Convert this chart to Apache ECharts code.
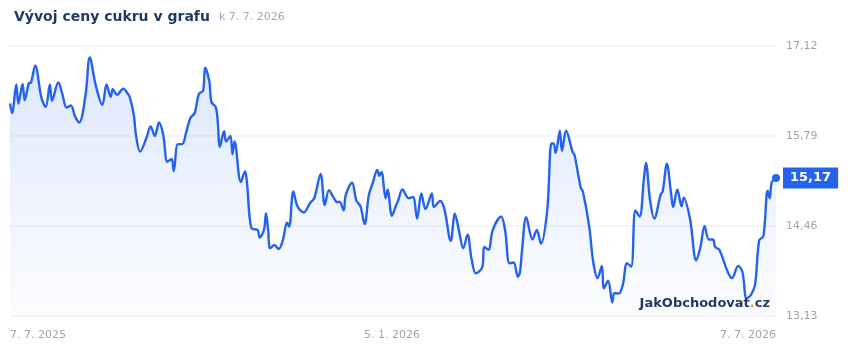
<!DOCTYPE html>
<html>
<head>
<meta charset="utf-8">
<script src="https://cdn.jsdelivr.net/npm/echarts@6/dist/echarts.min.js"></script>
<style>
  html, body { margin: 0; padding: 0; background: #fff; }
  #main { width: 860px; height: 350px; }
</style>
</head>
<body>
<div id="main"></div>
<script>
// datumy (denní body)
var dates = [
    '2025-07-07','2025-07-08','2025-07-10','2025-07-11','2025-07-13','2025-07-14','2025-07-16','2025-07-17','2025-07-19','2025-07-22',
    '2025-07-24','2025-07-26','2025-07-27','2025-07-30','2025-08-01','2025-08-03','2025-08-05','2025-08-07','2025-08-09','2025-08-12',
    '2025-08-14','2025-08-17','2025-08-20','2025-08-22','2025-08-24','2025-08-25','2025-08-27','2025-08-30','2025-09-01','2025-09-02',
    '2025-09-04','2025-09-05','2025-09-07','2025-09-10','2025-09-12','2025-09-14','2025-09-16','2025-09-18','2025-09-20','2025-09-22',
    '2025-09-23','2025-09-25','2025-09-27','2025-09-29','2025-10-01','2025-10-03','2025-10-05','2025-10-07','2025-10-08','2025-10-10',
    '2025-10-11','2025-10-13','2025-10-14','2025-10-15','2025-10-17','2025-10-18','2025-10-20','2025-10-21','2025-10-22','2025-10-25',
    '2025-10-27','2025-10-28','2025-10-30','2025-11-02','2025-11-03','2025-11-05','2025-11-06','2025-11-07','2025-11-08','2025-11-10',
    '2025-11-12','2025-11-14','2025-11-16','2025-11-17','2025-11-19','2025-11-21','2025-11-24','2025-11-27','2025-11-29','2025-12-02',
    '2025-12-04','2025-12-06','2025-12-08','2025-12-10','2025-12-11','2025-12-13','2025-12-14','2025-12-17','2025-12-19','2025-12-21',
    '2025-12-23','2025-12-25','2025-12-27','2025-12-29','2025-12-30','2025-12-31','2026-01-02','2026-01-03','2026-01-05','2026-01-07',
    '2026-01-08','2026-01-10','2026-01-13','2026-01-15','2026-01-17','2026-01-19','2026-01-21','2026-01-24','2026-01-25','2026-01-28',
    '2026-01-30','2026-02-02','2026-02-04','2026-02-06','2026-02-08','2026-02-10','2026-02-12','2026-02-14','2026-02-17','2026-02-18',
    '2026-02-20','2026-02-22','2026-02-26','2026-02-28','2026-03-02','2026-03-04','2026-03-06','2026-03-07','2026-03-08','2026-03-10',
    '2026-03-13','2026-03-15','2026-03-17','2026-03-20','2026-03-22','2026-03-23','2026-03-24','2026-03-26','2026-03-27','2026-03-29',
    '2026-04-01','2026-04-02','2026-04-05','2026-04-06','2026-04-09','2026-04-11','2026-04-13','2026-04-15','2026-04-16','2026-04-18',
    '2026-04-20','2026-04-21','2026-04-23','2026-04-25','2026-04-27','2026-04-29','2026-05-01','2026-05-03','2026-05-05','2026-05-06',
    '2026-05-08','2026-05-10','2026-05-13','2026-05-14','2026-05-16','2026-05-18','2026-05-19','2026-05-21','2026-05-23','2026-05-24',
    '2026-05-27','2026-05-30','2026-06-01','2026-06-03','2026-06-05','2026-06-07','2026-06-08','2026-06-10','2026-06-14','2026-06-16',
    '2026-06-19','2026-06-21','2026-06-23','2026-06-25','2026-06-27','2026-06-29','2026-07-01','2026-07-03','2026-07-04','2026-07-05',
    '2026-07-07'
];

// cena cukru
var prices = [
    16.27,16.13,16.55,16.27,16.56,16.32,16.57,16.58,16.83,16.35,
    16.22,16.55,16.31,16.58,16.40,16.21,16.24,16.08,15.99,16.40,
    16.95,16.52,16.25,16.55,16.37,16.48,16.40,16.49,16.42,16.37,
    16.10,15.81,15.56,15.76,15.93,15.79,15.99,15.81,15.41,15.45,
    15.27,15.67,15.67,15.85,16.06,16.13,16.41,16.46,16.80,16.59,
    16.29,16.22,16.00,15.63,15.86,15.71,15.79,15.52,15.71,15.11,
    15.27,15.07,14.43,14.40,14.29,14.40,14.65,14.40,14.13,14.18,
    14.12,14.25,14.51,14.45,14.97,14.75,14.66,14.80,14.87,15.23,
    14.77,14.99,14.89,14.81,14.82,14.69,14.92,15.10,14.84,14.75,
    14.49,14.92,15.11,15.29,15.20,15.26,14.87,15.00,14.61,14.77,
    14.84,15.00,14.87,14.89,14.57,14.94,14.71,14.94,14.74,14.83,
    14.71,14.24,14.64,14.38,14.13,14.33,13.96,13.76,13.85,14.15,
    14.11,14.40,14.60,14.38,13.91,13.92,13.71,13.78,14.11,14.59,
    14.26,14.40,14.20,14.70,15.68,15.68,15.54,15.87,15.57,15.87,
    15.56,15.51,15.02,14.97,14.45,13.91,13.69,13.87,13.54,13.65,
    13.33,13.47,13.46,13.59,13.91,13.86,14.69,14.60,15.14,15.39,
    14.84,14.57,14.92,14.97,15.38,14.94,14.74,15.00,14.75,14.88,
    14.57,13.95,14.15,14.46,14.26,14.26,14.15,14.11,13.78,13.69,
    13.87,13.78,13.39,13.44,13.59,14.25,14.31,14.98,14.87,15.11,
    15.17
];

// popisky osy x
var xLabelDates = ['2025-07-07', '2026-01-05', '2026-07-07'];

// osa y
var yMin = 13.13;
var yMax = 17.12;
var yStep = 1.33;

var blue = '#2563eb';

function fmtDate(v) {
    var d = new Date(v);
    return d.getUTCDate() + '. ' + (d.getUTCMonth() + 1) + '. ' + d.getUTCFullYear();
}

function fmtNum(v) {
    return Number(v).toFixed(2).replace('.', ',');
}

var seriesData = dates.map(function(item, index) {
    return [Date.parse(item), prices[index]];
});
var last = seriesData.length - 1;

var myChart = echarts.init(document.getElementById('main'));

var option = {
    animation: false,
    textStyle: { fontFamily: 'DejaVu Sans, sans-serif' },
    title: {
        text: '{a|Vývoj ceny cukru v grafu}{b|k 7. 7. 2026}',
        left: 9,
        top: 5,
        textStyle: {
            rich: {
                a: { fontSize: 14, fontWeight: 'bold', color: '#1e3a5f' },
                b: { fontSize: 11, fontWeight: 'normal', color: '#a0a8b8', padding: [0, 0, 0, 9] }
            }
        }
    },
    grid: { left: 10, right: 84, top: 46, bottom: 34 },
    xAxis: {
        type: 'value',
        min: seriesData[0][0],
        max: seriesData[last][0],
        axisLine: { show: false },
        axisTick: { show: false },
        splitLine: { show: false },
        axisLabel: {
            customValues: xLabelDates.map(function(s) { return Date.parse(s); }),
            formatter: fmtDate,
            color: '#9ca3af',
            fontSize: 11,
            margin: 14,
            alignMinLabel: 'left',
            alignMaxLabel: 'right'
        }
    },
    yAxis: {
        type: 'value',
        position: 'right',
        min: yMin,
        max: yMax,
        interval: yStep,
        axisLine: { show: false },
        axisTick: { show: false },
        axisLabel: {
            formatter: fmtNum,
            color: '#9ca3af',
            fontSize: 11,
            margin: 10
        },
        splitLine: { lineStyle: { color: '#f4f5f7', width: 2 } }
    },
    graphic: [{
        type: 'text',
        right: 90,
        top: 297,
        z: 10,
        style: {
            text: '{a|JakObchodovat}{b|.}{a|cz}',
            rich: {
                a: { fontSize: 13, fontWeight: 'bold', fill: '#1e3a5f', fontFamily: 'DejaVu Sans' },
                b: { fontSize: 13, fontWeight: 'bold', fill: '#f59e0b', fontFamily: 'DejaVu Sans' }
            }
        }
    }],
    series: [{
        type: 'line',
        data: seriesData,
        smooth: 0.35,
        showSymbol: false,
        lineStyle: { color: blue, width: 2.4 },
        areaStyle: {
            color: new echarts.graphic.LinearGradient(0, 0, 0, 1, [
                { offset: 0, color: 'rgba(37,99,235,0.22)' },
                { offset: 1, color: 'rgba(37,99,235,0.02)' }
            ])
        },
        endLabel: {
            show: true,
            formatter: function(p) { return fmtNum(p.value[1]); },
            distance: 7,
            backgroundColor: blue,
            color: '#fff',
            fontWeight: 'bold',
            fontSize: 13,
            padding: [4, 7]
        },
        markPoint: {
            symbol: 'circle',
            symbolSize: 8,
            itemStyle: { color: blue },
            label: { show: false },
            data: [{ coord: seriesData[last] }]
        }
    }]
};

myChart.setOption(option);
</script>
</body>
</html>
